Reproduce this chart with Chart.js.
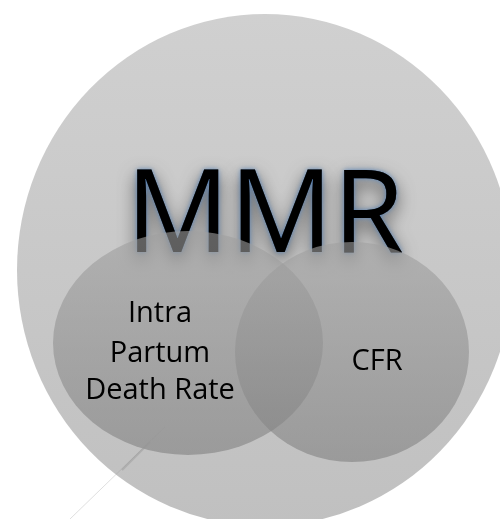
<!DOCTYPE html>
<html><head><meta charset="utf-8">
<script src="https://cdn.jsdelivr.net/npm/chart.js@4/dist/chart.umd.min.js"></script>
<style>html,body{margin:0;padding:0;background:#fff;overflow:hidden}#wrap{width:500px;height:519px}</style>
</head><body><div id="wrap"><canvas id="c" width="500" height="519"></canvas></div>
<script>
// Venn sets (chart units: x 0..500, y 0..519 top-down)
const setNames = ["MMR", "Intra Partum Death Rate", "CFR"];
const setCenterX = [265, 188, 352];
const setCenterY = [270, 343, 352];
const setRadiusX = [248, 135, 117];
const setRadiusY = [256, 112, 110];
// label text and anchors
const labelLines = [["MMR"], ["Intra", "Partum", "Death Rate"], ["CFR"]];
const labelX = [265, 160, 377];
const labelBaselineY = [[252], [322, 362, 399], [370]];
// faint leader line
const guideX = [70, 165];
const guideY = [519, 427];
const guideDarkX = [122, 150];
const guideDarkY = [470, 442];

const FONT = '"Open Sans", "Noto Sans", sans-serif';

function ellipsePath(ctx, xs, ys, i) {
  const cx = xs.getPixelForValue(setCenterX[i]);
  const cy = ys.getPixelForValue(setCenterY[i]);
  const rx = Math.abs(xs.getPixelForValue(setCenterX[i] + setRadiusX[i]) - cx);
  const ry = Math.abs(ys.getPixelForValue(setCenterY[i] + setRadiusY[i]) - cy);
  ctx.beginPath();
  ctx.ellipse(cx, cy, rx, ry, 0, 0, Math.PI * 2);
  return {cx, cy, rx, ry};
}

const vennPlugin = {
  id: 'venn',
  beforeDatasetsDraw(chart) {
    const ctx = chart.ctx, xs = chart.scales.x, ys = chart.scales.y;
    ctx.save();
    // outer set
    let g = ellipsePath(ctx, xs, ys, 0);
    let grad = ctx.createLinearGradient(0, g.cy - g.ry, 0, g.cy + g.ry);
    grad.addColorStop(0, '#d0d0d0');
    grad.addColorStop(1, '#c0c0c0');
    ctx.fillStyle = grad;
    ctx.fill();

    // MMR title with shadow and glow
    ctx.font = '115px ' + FONT;
    ctx.textAlign = 'center';
    ctx.textBaseline = 'alphabetic';
    const tx = xs.getPixelForValue(labelX[0]);
    const ty = ys.getPixelForValue(labelBaselineY[0][0]);
    ctx.fillStyle = '#000';
    ctx.shadowColor = 'rgba(0,0,0,0.6)';
    ctx.shadowBlur = 18;
    ctx.shadowOffsetY = 7;
    ctx.fillText(labelLines[0][0], tx, ty);
    ctx.shadowColor = 'rgba(79,129,189,0.9)';
    ctx.shadowBlur = 5;
    ctx.shadowOffsetY = 0;
    ctx.fillText(labelLines[0][0], tx, ty);
    ctx.shadowColor = 'transparent';
    ctx.shadowBlur = 0;

    // inner sets (semi-transparent)
    for (const i of [1, 2]) {
      g = ellipsePath(ctx, xs, ys, i);
      grad = ctx.createLinearGradient(0, g.cy - g.ry, 0, g.cy + g.ry);
      grad.addColorStop(0, 'rgba(160,160,160,0.6)');
      grad.addColorStop(1, 'rgba(128,128,128,0.6)');
      ctx.fillStyle = grad;
      ctx.fill();
    }

    // inner labels
    ctx.font = '29px ' + FONT;
    ctx.fillStyle = '#000';
    for (const i of [1, 2]) {
      const lx = xs.getPixelForValue(labelX[i]);
      labelLines[i].forEach((t, k) => {
        ctx.fillText(t, lx, ys.getPixelForValue(labelBaselineY[i][k]));
      });
    }
    ctx.restore();
  }
};

new Chart(document.getElementById('c'), {
  type: 'scatter',
  data: {
    datasets: [
      {
        label: 'sets',
        data: setCenterX.map((x, i) => ({x, y: setCenterY[i]})),
        pointRadius: 0,
        showLine: false
      },
      {
        label: 'guide',
        data: guideX.map((x, i) => ({x, y: guideY[i]})),
        showLine: true,
        borderColor: 'rgba(150,150,150,0.3)',
        borderWidth: 1,
        pointRadius: 0
      },
      {
        label: 'guideDark',
        data: guideDarkX.map((x, i) => ({x, y: guideDarkY[i]})),
        showLine: true,
        borderColor: 'rgba(150,150,150,0.45)',
        borderWidth: 2,
        pointRadius: 0
      }
    ]
  },
  options: {
    responsive: false,
    animation: false,
    events: [],
    layout: {padding: 0},
    plugins: {legend: {display: false}, tooltip: {enabled: false}, title: {display: false}},
    scales: {
      x: {type: 'linear', min: 0, max: 500, display: false},
      y: {type: 'linear', min: 0, max: 519, reverse: true, display: false}
    }
  },
  plugins: [vennPlugin]
});
</script>
</body></html>
